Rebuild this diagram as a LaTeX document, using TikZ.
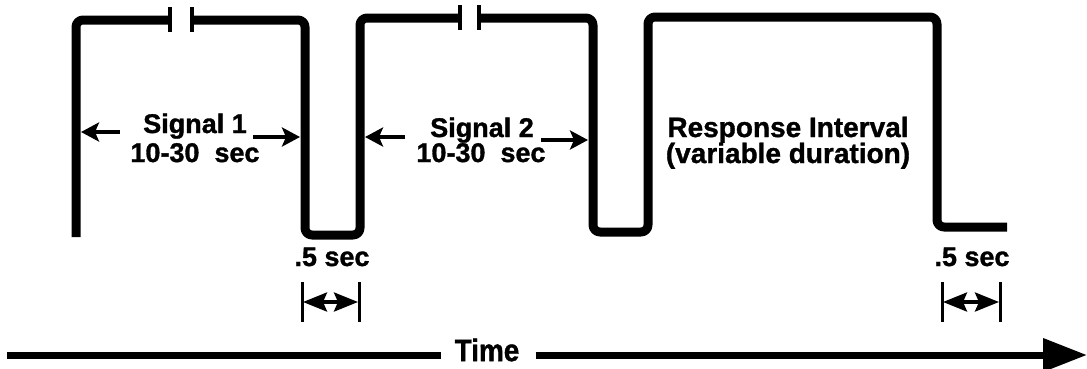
\documentclass[tikz,border=0pt]{standalone}
\usepackage{fontspec}
\setmainfont{Liberation Sans}[BoldFeatures={FakeBold=1.2}]
\usetikzlibrary{arrows.meta}
\begin{document}
\begin{tikzpicture}[x=1pt,y=-1pt,
  wave/.style={line width=9pt,rounded corners=7pt,line join=round},
  brk/.style={line width=4pt},
  lbl/.style={font=\fontsize{27}{27}\selectfont\bfseries,inner sep=0pt,anchor=base},
  sigarrow/.style={line width=4.5pt,arrows={-Stealth[length=18pt,width=19pt,inset=4pt]}},
  dimtick/.style={line width=3pt},
  dimarrow/.style={line width=3.5pt,arrows={Stealth[length=24pt,width=19pt,inset=4pt]-Stealth[length=24pt,width=19pt,inset=4pt]}},
  timeline/.style={line width=7pt}]
\useasboundingbox (0,0) rectangle (1087,368);
% waveform
\draw[wave] (76,237) -- (76,20) -- (170,20);
\draw[brk] (170,7) -- (170,32);
\draw[brk] (192,7) -- (192,32);
\draw[wave] (192,20) -- (305,20) -- (305,235) -- (360,235) -- (360,18) -- (460,18);
\draw[brk] (460,5) -- (460,30);
\draw[brk] (479,5) -- (479,30);
\draw[wave] (479,18) -- (593,18) -- (593,232) -- (648,232) -- (648,17) -- (937,17) -- (937,227) -- (1007,227);
% labels
\node[lbl] (s1) at (195,133) {Signal 1};
\node[lbl] (s1t) at (195,162) {10-30\ \ sec};
\node[lbl] (s2) at (482,137) {Signal 2};
\node[lbl] (s2t) at (481,162) {10-30\ \ sec};
\node[lbl,font=\fontsize{28}{28}\selectfont\bfseries] (r1) at (788,137) {Response Interval};
\node[lbl,font=\fontsize{28}{28}\selectfont\bfseries] (r2) at (788,163) {(variable duration)};
% signal arrows
\coordinate (a1s) at (120,132); \coordinate (a1e) at (81,132);
\coordinate (a2s) at (253,137); \coordinate (a2e) at (300,137);
\coordinate (a3s) at (405,137); \coordinate (a3e) at (365,137);
\coordinate (a4s) at (541,140); \coordinate (a4e) at (588,140);
\draw[sigarrow] (a1s) -- (a1e);
\draw[sigarrow] (a2s) -- (a2e);
\draw[sigarrow] (a3s) -- (a3e);
\draw[sigarrow] (a4s) -- (a4e);
% .5 sec dimensions
\node[lbl] (d1) at (332,266) {.5 sec};
\coordinate (t1a) at (302,282); \coordinate (t1b) at (302,322);
\coordinate (t2a) at (359,282); \coordinate (t2b) at (359,322);
\draw[dimtick] (t1a) -- (t1b);
\draw[dimtick] (t2a) -- (t2b);
\coordinate (m1) at (303,302); \coordinate (m2) at (358,302);
\draw[dimarrow] (m1) -- (m2);
\node[lbl] (d2) at (972,266) {.5 sec};
\coordinate (t3a) at (942,282); \coordinate (t3b) at (942,322);
\coordinate (t4a) at (1000,282); \coordinate (t4b) at (1000,322);
\draw[dimtick] (t3a) -- (t3b);
\draw[dimtick] (t4a) -- (t4b);
\coordinate (m3) at (943,302); \coordinate (m4) at (999,302);
\draw[dimarrow] (m3) -- (m4);
% time axis
\node[inner sep=0pt,font=\fontsize{31}{31}\selectfont\bfseries\addfontfeatures{FakeStretch=0.9}] (time) at (487,350) {Time};
\coordinate (tl) at (7,355);
\coordinate (tr) at (1087,355);
\coordinate (tw) at ([xshift=-13pt]time.west);
\coordinate (te) at ([xshift=16pt]time.east);
\draw[timeline] (tl) -- (tl -| tw);
\draw[timeline,-{Triangle[length=44pt,width=32pt]}] (tr -| te) -- (tr);
\end{tikzpicture}
\end{document}
